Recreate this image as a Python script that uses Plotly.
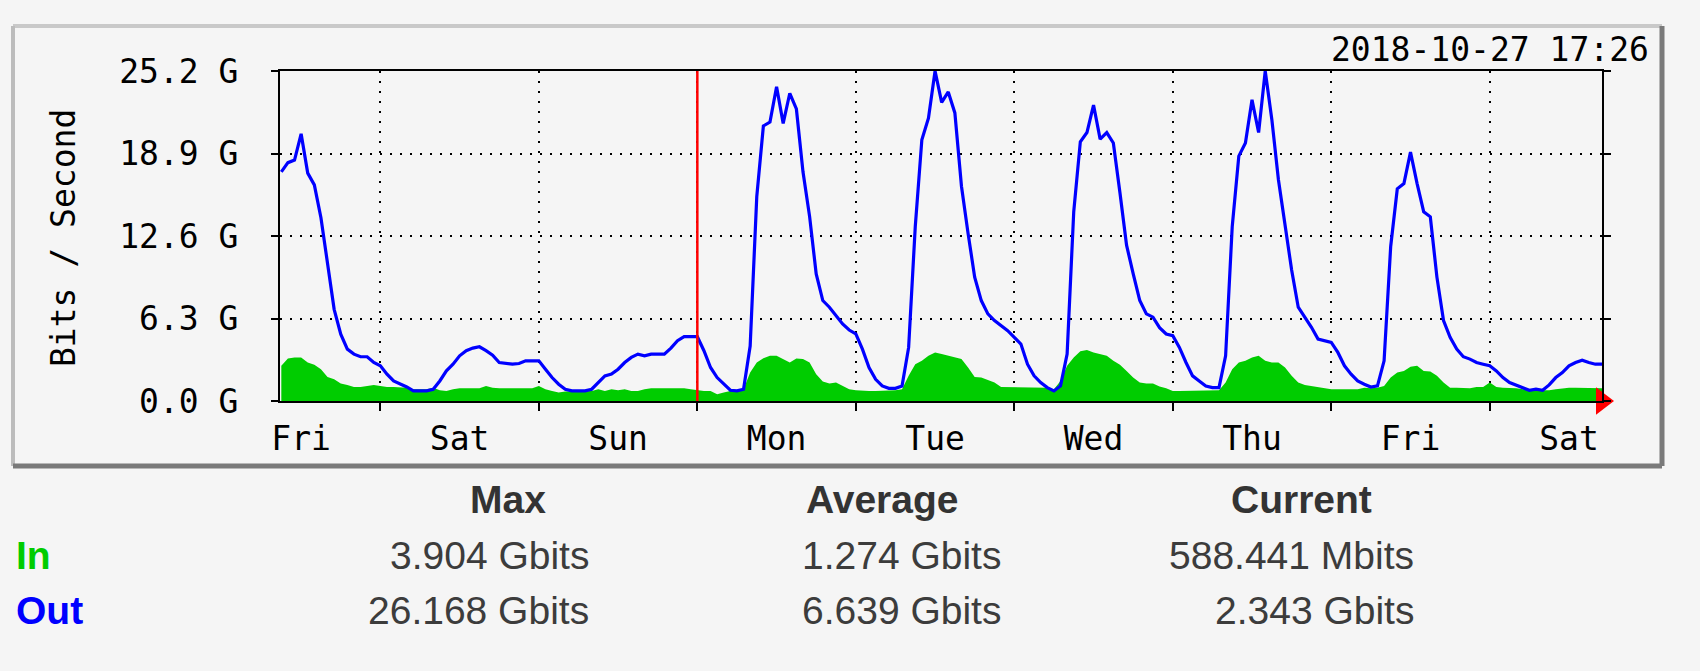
import pandas as pd
import plotly.graph_objects as go

# ---- traffic samples, hourly, Gbit/s ----
times = pd.date_range("2018-10-19 09:00", periods=201, freq="h")

in_gbps = [
    2.69, 3.25, 3.33, 3.33, 2.94, 2.76, 2.43, 1.84, 1.66, 1.33, 1.23, 1.07, 1.07, 1.15, 1.23,
    1.15, 1.07, 1.07, 1.07, 1.02, 0.90, 0.90, 0.90, 1.02, 0.82, 0.77, 0.90, 0.97, 0.97, 0.97,
    0.97, 1.15, 1.02, 0.97, 0.97, 0.97, 0.97, 0.97, 0.97, 1.15, 0.90, 0.77, 0.64, 0.72, 0.72,
    0.72, 0.72, 0.77, 0.90, 0.77, 0.90, 0.82, 0.90, 0.77, 0.77, 0.90, 0.97, 0.97, 0.97, 0.97,
    0.97, 0.97, 0.90, 0.82, 0.77, 0.77, 0.51, 0.64, 0.77, 0.77, 0.90, 2.17, 2.94, 3.27, 3.45,
    3.45, 3.20, 2.94, 3.25, 3.20, 2.94, 2.05, 1.48, 1.33, 1.41, 1.15, 0.90, 0.82, 0.77, 0.77,
    0.77, 0.77, 0.77, 0.82, 0.90, 1.92, 2.81, 3.07, 3.45, 3.71, 3.58, 3.45, 3.33, 3.20, 2.56,
    1.84, 1.79, 1.59, 1.41, 1.07, 1.07, 1.07, 1.02, 1.02, 1.07, 1.07, 1.02, 0.90, 1.53, 2.69,
    3.33, 3.80, 3.90, 3.71, 3.58, 3.45, 3.07, 2.76, 2.30, 1.79, 1.41, 1.33, 1.33, 1.10, 0.97,
    0.77, 0.77, 0.77, 0.77, 0.77, 0.77, 0.77, 0.82, 1.41, 2.43, 2.94, 3.07, 3.33, 3.45, 3.07,
    2.94, 2.94, 2.56, 1.92, 1.41, 1.23, 1.15, 1.02, 0.97, 0.90, 0.90, 0.90, 0.90, 0.90, 1.02,
    0.97, 1.02, 1.15, 1.79, 2.17, 2.30, 2.61, 2.69, 2.30, 2.25, 1.92, 1.41, 1.02, 1.02, 1.02,
    0.97, 1.07, 1.07, 1.41, 1.07, 1.02, 1.02, 0.97, 0.90, 0.90, 0.90, 0.82, 0.82, 0.90, 0.97,
    1.02, 1.02, 1.02, 0.97, 0.97, 0.97,
]

out_gbps = [
    17.5, 18.2, 18.4, 20.4, 17.4, 16.5, 14.0, 10.5, 7.0, 5.1, 3.96, 3.58, 3.38, 3.38, 2.94,
    2.69, 2.05, 1.53, 1.33, 1.07, 0.77, 0.77, 0.77, 0.90, 1.53, 2.30, 2.81, 3.45, 3.84, 4.04,
    4.14, 3.84, 3.50, 2.94, 2.86, 2.81, 2.86, 3.07, 3.07, 3.07, 2.43, 1.79, 1.28, 0.90, 0.77,
    0.77, 0.77, 0.90, 1.41, 1.92, 2.05, 2.43, 2.94, 3.33, 3.58, 3.45, 3.58, 3.58, 3.58, 4.04,
    4.60, 4.91, 4.91, 4.91, 3.84, 2.56, 1.79, 1.28, 0.82, 0.77, 0.90, 4.20, 15.6, 21.0, 21.3,
    24.0, 21.2, 23.5, 22.3, 17.5, 14.1, 9.70, 7.67, 7.16, 6.52, 5.88, 5.42, 5.12, 3.96, 2.56,
    1.66, 1.15, 0.97, 0.97, 1.15, 4.09, 13.3, 19.95, 21.6, 25.2, 22.8, 23.6, 22.0, 16.4, 12.8,
    9.46, 7.67, 6.65, 6.14, 5.76, 5.37, 4.86, 4.35, 2.81, 1.92, 1.41, 1.02, 0.77, 1.15, 3.58,
    14.45, 19.8, 20.5, 22.6, 20.0, 20.5, 19.7, 15.9, 11.9, 9.72, 7.67, 6.65, 6.40, 5.60, 5.12,
    4.99, 4.09, 2.94, 1.92, 1.53, 1.15, 1.02, 1.02, 3.45, 13.3, 18.7, 19.7, 23.0, 20.5, 25.2,
    21.5, 16.9, 13.3, 10.0, 7.16, 6.40, 5.63, 4.73, 4.60, 4.48, 3.71, 2.69, 2.05, 1.53, 1.28,
    1.07, 1.15, 3.07, 11.8, 16.2, 16.6, 19.0, 16.6, 14.45, 14.07, 9.46, 6.14, 4.86, 3.96, 3.38,
    3.20, 2.94, 2.81, 2.69, 2.30, 1.79, 1.41, 1.23, 1.02, 0.82, 0.90, 0.82, 1.23, 1.79, 2.17,
    2.69, 2.94, 3.12, 2.94, 2.81, 2.81,
]

y_ticks = [0.0, 6.3, 12.6, 18.9, 25.2]
y_tick_text = ["0.0 G", "6.3 G", "12.6 G", "18.9 G", "25.2 G"]

view_start = "2018-10-19 08:48"
view_end = "2018-10-27 17:00"
week_start = "2018-10-22 00:00"
stamp = "2018-10-27 17:26"

summary_heads = ["Max", "Average", "Current"]
in_summary = ["3.904 Gbits", "1.274 Gbits", "588.441 Mbits"]
out_summary = ["26.168 Gbits", "6.639 Gbits", "2.343 Gbits"]

# ---- page geometry ----
FIG_W, FIG_H = 1700, 671
L, R, T, B = 280, 1602, 71, 401
PW, PH = R - L, B - T
BG = "#f5f5f5"
MONO = "DejaVu Sans Mono"
SANS = "Liberation Sans, Arial, Helvetica, sans-serif"


def px_x(px):
    return (px - L) / PW


def px_y(py):
    return (B - py) / PH


DAY_MS = 86400000

fig = go.Figure()
fig.add_trace(go.Scatter(
    x=times, y=in_gbps, mode="lines", fill="tozeroy",
    line=dict(width=0, color="#00cc00"), fillcolor="#00cc00",
    name="In", hoverinfo="skip",
))
fig.add_trace(go.Scatter(
    x=times, y=out_gbps, mode="lines",
    line=dict(width=3.2, color="#0000ff"),
    name="Out", hoverinfo="skip",
))
# arrow head at the end of the time axis
fig.add_trace(go.Scatter(
    x=[view_end], y=[0], mode="markers", cliponaxis=False,
    marker=dict(symbol="triangle-right", size=24, color="#ff0000", line=dict(width=0)),
    hoverinfo="skip",
))

# start-of-week marker
fig.add_shape(type="line", xref="x", yref="paper", x0=week_start, x1=week_start,
              y0=0, y1=1, line=dict(color="#ff0000", width=2.5), layer="above")

# outer bevelled frame
fx0, fx1 = px_x(13), px_x(1662)
fy0, fy1 = px_y(466), px_y(26)
for (xa, ya, xb, yb, col, w) in [
    (fx0, fy1, fx1, fy1, "#c9c9c9", 4),
    (fx0, fy0, fx0, fy1, "#bcbcbc", 4),
    (fx0, fy0, fx1, fy0, "#7a7a7a", 5),
    (fx1, fy0, fx1, fy1, "#7a7a7a", 5),
]:
    fig.add_shape(type="line", xref="paper", yref="paper", x0=xa, y0=ya, x1=xb, y1=yb,
                  line=dict(color=col, width=w), layer="below")

annotations = [
    dict(text="Bits / Second", x=px_x(63), y=px_y(238), textangle=-90,
         xanchor="center", yanchor="middle", font=dict(family=MONO, size=33, color="black")),
    dict(text=stamp, x=px_x(1651), y=px_y(49), xanchor="right", yanchor="middle",
         font=dict(family=MONO, size=33, color="black")),
]

head_x = [508, 882, 1301]
val_right = [591, 1003, 1416]
for hx, head in zip(head_x, summary_heads):
    annotations.append(dict(text=f"<b>{head}</b>", x=px_x(hx), y=px_y(499),
                            xanchor="center", yanchor="middle",
                            font=dict(family=SANS, size=39, color="#333333")))
for row_y, label, colr, vals in [(555, "In", "#00cc00", in_summary),
                                 (610, "Out", "#0000ff", out_summary)]:
    annotations.append(dict(text=f"<b>{label}</b>", x=px_x(14), y=px_y(row_y),
                            xanchor="left", yanchor="middle",
                            font=dict(family=SANS, size=39, color=colr)))
    for vx, v in zip(val_right, vals):
        annotations.append(dict(text=v, x=px_x(vx), y=px_y(row_y),
                                xanchor="right", yanchor="middle",
                                font=dict(family=SANS, size=39, color="#3c3c3c")))

for a in annotations:
    a.update(xref="paper", yref="paper", showarrow=False)

fig.update_layout(
    width=FIG_W, height=FIG_H,
    margin=dict(l=L, r=FIG_W - R, t=T, b=FIG_H - B, pad=0),
    paper_bgcolor=BG, plot_bgcolor=BG,
    showlegend=False,
    annotations=annotations,
    xaxis=dict(
        type="date", range=[view_start, view_end],
        tick0="2018-10-19 12:00", dtick=DAY_MS, tickformat="%a",
        ticks="", showgrid=False, zeroline=False,
        showline=True, linecolor="black", linewidth=2, mirror=True,
        tickfont=dict(family=MONO, size=33, color="black"),
        ticklabelstandoff=7,
        minor=dict(tick0="2018-10-20 00:00", dtick=DAY_MS, showgrid=True,
                   gridcolor="black", griddash="2px,8px", gridwidth=2,
                   ticks="outside", ticklen=8, tickwidth=2, tickcolor="black"),
    ),
    yaxis=dict(
        range=[0, 25.2], tickvals=y_ticks, ticktext=y_tick_text,
        showgrid=True, gridcolor="black", griddash="2px,8px", gridwidth=2,
        zeroline=False, showline=True, linecolor="black", linewidth=2,
        mirror="allticks", ticks="outside", ticklen=7, tickwidth=2, tickcolor="black",
        tickfont=dict(family=MONO, size=33, color="black"),
        ticklabelstandoff=26,
    ),
)

fig.write_html("out.html")
